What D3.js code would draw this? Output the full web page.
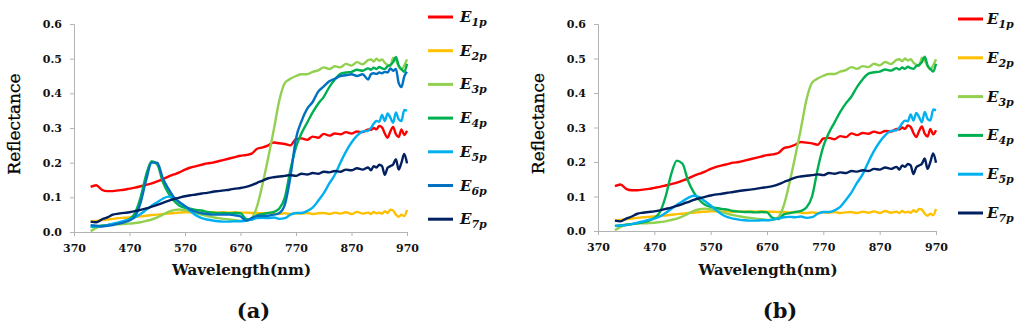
<!DOCTYPE html>
<html>
<head>
<meta charset="utf-8">
<script src="https://cdn.jsdelivr.net/npm/d3@7/dist/d3.min.js"></script>
<style>
  html, body { margin: 0; padding: 0; background: #fff; }
  svg { display: block; }
</style>
</head>
<body>
<svg id="chart" width="1024" height="328"></svg>
<script>
// ---------------- DATA ----------------
const wavelengths = [400,410,420,430,440,450,460,470,480,490,500,510,520,530,540,550,560,570,580,590,600,610,620,630,640,650,660,670,680,690,700,710,720,730,740,750,760,770,780,790,800,810,820,830,840,850,860,870,880,890,900,905,910,915,920,925,930,935,940,945,950,955,960,965,970];

const E1p = [0.130,0.135,0.122,0.118,0.118,0.120,0.122,0.125,0.128,0.132,0.136,0.140,0.146,0.152,0.160,0.166,0.172,0.180,0.186,0.190,0.194,0.198,0.200,0.204,0.208,0.212,0.216,0.220,0.222,0.226,0.240,0.244,0.250,0.258,0.256,0.254,0.250,0.268,0.270,0.266,0.275,0.272,0.283,0.278,0.284,0.282,0.288,0.284,0.290,0.288,0.296,0.294,0.300,0.296,0.306,0.302,0.284,0.272,0.290,0.303,0.282,0.274,0.296,0.280,0.292];

const E2p = [0.030,0.032,0.034,0.036,0.038,0.040,0.041,0.042,0.044,0.045,0.047,0.049,0.050,0.052,0.053,0.055,0.056,0.057,0.057,0.056,0.057,0.056,0.057,0.056,0.057,0.056,0.057,0.056,0.056,0.055,0.055,0.054,0.055,0.053,0.052,0.054,0.052,0.054,0.053,0.055,0.052,0.054,0.055,0.052,0.056,0.053,0.057,0.052,0.058,0.053,0.056,0.052,0.058,0.054,0.056,0.053,0.060,0.055,0.064,0.062,0.050,0.044,0.050,0.046,0.064];

const E3p = [0.002,0.012,0.018,0.020,0.022,0.022,0.023,0.024,0.026,0.028,0.032,0.036,0.042,0.050,0.058,0.063,0.065,0.063,0.060,0.055,0.050,0.046,0.043,0.040,0.038,0.036,0.034,0.032,0.032,0.040,0.075,0.140,0.215,0.295,0.380,0.430,0.442,0.450,0.455,0.455,0.462,0.466,0.475,0.470,0.478,0.475,0.485,0.480,0.490,0.484,0.496,0.498,0.492,0.500,0.494,0.498,0.488,0.482,0.478,0.502,0.495,0.478,0.468,0.480,0.498];

const E4p = [0.015,0.016,0.018,0.020,0.022,0.025,0.030,0.038,0.055,0.100,0.165,0.204,0.195,0.145,0.112,0.090,0.076,0.070,0.067,0.064,0.062,0.058,0.056,0.055,0.055,0.054,0.055,0.054,0.038,0.035,0.048,0.052,0.055,0.058,0.068,0.100,0.180,0.245,0.285,0.315,0.345,0.370,0.390,0.418,0.440,0.456,0.460,0.462,0.468,0.465,0.472,0.468,0.474,0.470,0.476,0.472,0.470,0.478,0.482,0.490,0.505,0.480,0.470,0.462,0.485];

const E5p = [0.015,0.016,0.017,0.020,0.024,0.028,0.032,0.036,0.042,0.052,0.064,0.076,0.086,0.096,0.102,0.098,0.086,0.074,0.060,0.048,0.040,0.036,0.033,0.031,0.030,0.030,0.031,0.031,0.033,0.036,0.040,0.041,0.040,0.042,0.038,0.040,0.050,0.055,0.055,0.060,0.070,0.090,0.112,0.140,0.165,0.200,0.232,0.258,0.278,0.290,0.292,0.300,0.312,0.320,0.318,0.338,0.320,0.342,0.330,0.315,0.345,0.325,0.320,0.352,0.350];

const E6p = [0.020,0.018,0.016,0.018,0.020,0.024,0.028,0.033,0.045,0.085,0.150,0.200,0.200,0.155,0.125,0.100,0.085,0.075,0.064,0.058,0.054,0.052,0.050,0.050,0.050,0.050,0.048,0.045,0.033,0.040,0.046,0.046,0.047,0.050,0.055,0.080,0.160,0.270,0.320,0.355,0.375,0.405,0.420,0.435,0.442,0.450,0.452,0.455,0.450,0.455,0.440,0.455,0.458,0.456,0.460,0.458,0.462,0.460,0.472,0.465,0.470,0.430,0.418,0.448,0.462];

const E7p = [0.030,0.028,0.036,0.042,0.050,0.053,0.055,0.057,0.060,0.064,0.068,0.073,0.078,0.084,0.090,0.095,0.099,0.103,0.106,0.108,0.111,0.113,0.116,0.118,0.120,0.122,0.125,0.127,0.130,0.135,0.142,0.148,0.155,0.158,0.160,0.162,0.164,0.162,0.168,0.166,0.170,0.168,0.174,0.172,0.176,0.174,0.180,0.178,0.184,0.180,0.186,0.178,0.190,0.186,0.194,0.190,0.165,0.185,0.190,0.195,0.210,0.180,0.200,0.225,0.198];

const seriesKeys = ["1p","2p","3p","4p","5p","6p","7p"];
const seriesValues = [E1p, E2p, E3p, E4p, E5p, E6p, E7p];
const seriesColors = ["#FF0000","#FFC000","#92D050","#00B050","#00B0F0","#0070C0","#002060"];

const xTicks = [370,470,570,670,770,870,970];
const yTicks = [0,0.1,0.2,0.3,0.4,0.5,0.6];
const panelLabels = ["(a)","(b)"];
const panelSeries = [[0,1,2,3,4,5,6],[0,1,2,3,4,6]];

// ---------------- LAYOUT ----------------
const panels = [
  { left: 74, right: 407, top: 24, bottom: 232, legX: 428, legY: 17, legStep: 33.7, legText: 460, ylabX: 20, xlabY: 275, tagY: 318 },
  { left: 598, right: 936, top: 24, bottom: 231, legX: 958, legY: 19, legStep: 38.8, legText: 987, ylabX: 544, xlabY: 275, tagY: 318 }
];

const svg = d3.select("#chart");
const serif = "'DejaVu Serif', serif";

panels.forEach((p, pi) => {
  const x = d3.scaleLinear().domain([370, 970]).range([p.left, p.right]);
  const y = d3.scaleLinear().domain([0, 0.6]).range([p.bottom, p.top]);
  const g = svg.append("g");

  const ya = g.append("g").attr("transform", `translate(${p.left},0)`)
    .call(d3.axisLeft(y).tickValues(yTicks).tickFormat(d3.format(".1f")).tickSize(4).tickPadding(8));
  const xa = g.append("g").attr("transform", `translate(0,${p.bottom})`)
    .call(d3.axisBottom(x).tickValues(xTicks).tickFormat(d3.format("d")).tickSize(4).tickPadding(8));
  [ya, xa].forEach(a => {
    a.select(".domain").attr("stroke", "#b3b3b3").attr("stroke-width", 1);
    a.selectAll(".tick line").attr("stroke", "#b3b3b3");
    a.selectAll(".tick text").attr("fill", "#111").attr("font-family", serif)
      .attr("font-weight", "bold").attr("font-size", 11);
  });

  const line = d3.line()
    .x((d, i) => x(wavelengths[i]))
    .y(d => y(d))
    .curve(d3.curveMonotoneX);
  panelSeries[pi].forEach(si => {
    g.append("path")
      .attr("d", line(seriesValues[si]))
      .attr("fill", "none")
      .attr("stroke", seriesColors[si])
      .attr("stroke-width", 2.4)
      .attr("stroke-linejoin", "round");
  });

  panelSeries[pi].forEach((si, k) => {
    const ly = p.legY + k * p.legStep;
    g.append("line")
      .attr("x1", p.legX).attr("x2", p.legX + 25)
      .attr("y1", ly).attr("y2", ly)
      .attr("stroke", seriesColors[si]).attr("stroke-width", 3);
    const t = g.append("text")
      .attr("x", p.legText).attr("y", ly + 5)
      .attr("font-family", serif).attr("font-weight", "bold").attr("font-style", "italic")
      .attr("fill", "#111");
    t.append("tspan").attr("font-size", 15).text("E");
    t.append("tspan").attr("font-size", 11).attr("dy", 4).text(seriesKeys[si]);
  });

  g.append("text")
    .attr("transform", `translate(${p.ylabX},${(p.top + p.bottom) / 2 - 4}) rotate(-90)`)
    .attr("text-anchor", "middle")
    .attr("font-family", serif).attr("font-size", 17).attr("fill", "#000")
    .attr("stroke", "#000").attr("stroke-width", 0.3)
    .text("Reflectance");
  g.append("text")
    .attr("x", (p.left + p.right) / 2 + 1).attr("y", p.xlabY)
    .attr("text-anchor", "middle")
    .attr("font-family", serif).attr("font-weight", "bold").attr("font-size", 15).attr("fill", "#111")
    .text("Wavelength(nm)");
  g.append("text")
    .attr("x", (p.left + p.right) / 2 + 13).attr("y", p.tagY)
    .attr("text-anchor", "middle")
    .attr("font-family", serif).attr("font-weight", "bold").attr("font-size", 21).attr("fill", "#111")
    .text(panelLabels[pi]);
});
</script>
</body>
</html>
